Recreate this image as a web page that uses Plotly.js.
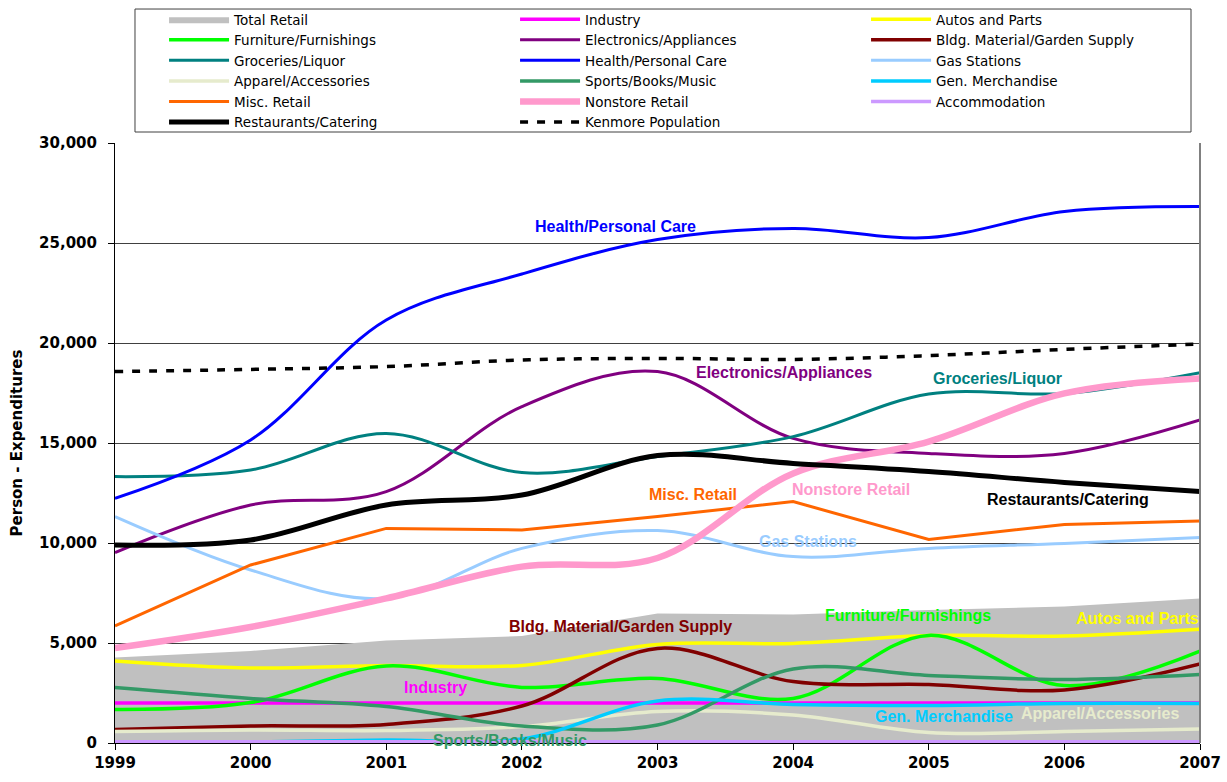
<!DOCTYPE html>
<html>
<head>
<meta charset="utf-8">
<script src="https://cdn.plot.ly/plotly-3.0.1.min.js"></script>
<style>html,body{margin:0;padding:0;background:#fff;}#chart{width:1227px;height:782px;}</style>
</head>
<body>
<div id="chart"></div>
<script>
var years = [1999, 2000, 2001, 2002, 2003, 2004, 2005, 2006, 2007];

var totalRetail   = [4270, 4600, 5120, 5350, 6480, 6430, 6650, 6820, 7230];
var industry      = [2000, 2000, 2000, 2000, 2000, 2000, 2000, 2000, 2000];
var autos         = [4100, 3750, 3870, 3880, 4930, 4980, 5370, 5350, 5690];
var furniture     = [1680, 2020, 3850, 2780, 3230, 2230, 5380, 2870, 4600];
var electronics   = [9520, 11900, 12570, 16820, 18570, 15230, 14480, 14480, 16150];
var bldg          = [680, 850, 930, 1850, 4730, 3070, 2930, 2650, 3950];
var groceries     = [13320, 13650, 15480, 13520, 14320, 15320, 17450, 17480, 18520];
var health        = [12230, 15150, 21150, 23450, 25170, 25730, 25270, 26570, 26820];
var gas           = [11320, 8650, 7230, 9730, 10620, 9320, 9730, 9980, 10270];
var apparel       = [570, 650, 620, 820, 1570, 1400, 520, 570, 700];
var sports        = [2770, 2230, 1820, 850, 900, 3700, 3380, 3180, 3430];
var genMerch      = [0, 50, 150, 200, 2100, 1930, 1880, 1980, 1980];
var misc          = [5850, 8900, 10730, 10650, 11320, 12070, 10180, 10930, 11100];
var nonstore      = [4750, 5800, 7230, 8820, 9250, 13480, 15070, 17480, 18230];
var accommodation = [60, 60, 60, 60, 60, 60, 60, 60, 60];
var restaurants   = [9900, 10150, 11900, 12400, 14370, 13980, 13570, 13030, 12570];
var population    = [18570, 18680, 18820, 19150, 19230, 19180, 19370, 19680, 19950];

var yTicks = [0, 5000, 10000, 15000, 20000, 25000, 30000];
var yTickText = ['0', '5,000', '10,000', '15,000', '20,000', '25,000', '30,000'];

function line(name, y, color, width, shape, dash) {
  return {
    type: 'scatter', mode: 'lines', name: name, x: years, y: y,
    line: {color: color, width: width, shape: shape || 'spline', smoothing: 1, dash: dash || 'solid'},
    hoverinfo: 'skip'
  };
}

var traces = [
  {type: 'scatter', mode: 'lines', name: 'Total Retail', x: years, y: totalRetail,
   fill: 'tozeroy', fillcolor: '#C0C0C0', line: {color: '#C0C0C0', width: 0}, hoverinfo: 'skip'},
  line('Industry', industry, '#FF00FF', 3.5),
  line('Autos and Parts', autos, '#FFFF00', 3.5),
  line('Furniture/Furnishings', furniture, '#00FF00', 3.5),
  line('Electronics/Appliances', electronics, '#800080', 3),
  line('Bldg. Material/Garden Supply', bldg, '#800000', 3.5),
  line('Groceries/Liquor', groceries, '#008080', 3),
  line('Health/Personal Care', health, '#0000FF', 3),
  line('Gas Stations', gas, '#99CCFF', 3),
  line('Apparel/Accessories', apparel, '#E6EBCD', 3.5),
  line('Sports/Books/Music', sports, '#339966', 3.5),
  line('Gen. Merchandise', genMerch, '#00CCFF', 3.5),
  line('Misc. Retail', misc, '#FF6600', 3, 'linear'),
  line('Nonstore Retail', nonstore, '#FF99CC', 6.5),
  line('Accommodation', accommodation, '#CC99FF', 3.5),
  line('Restaurants/Catering', restaurants, '#000000', 5),
  line('Kenmore Population', population, '#000000', 3.5, 'spline', '8px,9px')
];

var labelFont = {family: 'Liberation Sans, Arial, sans-serif', size: 16, weight: 'bold'};
function lab(text, x, y, color) {
  return {text: text, x: x, y: y, xref: 'x', yref: 'y', showarrow: false,
          xanchor: 'center', yanchor: 'middle',
          font: Object.assign({}, labelFont, {color: color})};
}

var annotations = [
  lab('Health/Personal Care', 2002.69, 25850, '#0000FF'),
  lab('Electronics/Appliances', 2003.93, 18550, '#800080'),
  lab('Groceries/Liquor', 2005.51, 18250, '#008080'),
  lab('Misc. Retail', 2003.26, 12450, '#FF6600'),
  lab('Nonstore Retail', 2004.43, 12700, '#FF99CC'),
  lab('Restaurants/Catering', 2006.03, 12200, '#000000'),
  lab('Gas Stations', 2004.11, 10100, '#99CCFF'),
  lab('Bldg. Material/Garden Supply', 2002.73, 5850, '#800000'),
  lab('Furniture/Furnishings', 2004.85, 6400, '#00FF00'),
  lab('Autos and Parts', 2006.54, 6250, '#FFFF00'),
  lab('Industry', 2001.36, 2800, '#FF00FF'),
  lab('Gen. Merchandise', 2005.11, 1350, '#00CCFF'),
  lab('Apparel/Accessories', 2006.26, 1500, '#E6EBCD'),
  lab('Sports/Books/Music', 2001.91, 150, '#339966')
];

var layout = {
  width: 1227, height: 782,
  margin: {l: 115, r: 27, t: 143, b: 39, autoexpand: false},
  paper_bgcolor: '#ffffff', plot_bgcolor: '#ffffff',
  showlegend: true,
  legend: {
    orientation: 'h', xref: 'container', yref: 'container',
    x: 0.1337, y: 0.9949, xanchor: 'left', yanchor: 'top',
    entrywidth: 276, entrywidthmode: 'pixels', itemwidth: 60,
    borderwidth: 0, bgcolor: 'rgba(0,0,0,0)',
    font: {family: 'DejaVu Sans, sans-serif', size: 13.5, color: '#000000'},
    traceorder: 'normal'
  },
  xaxis: {
    range: [1999, 2007], tickvals: years, ticktext: years.map(String),
    showgrid: false, zeroline: false,
    showline: true, linecolor: '#000000', linewidth: 1,
    ticks: 'outside', ticklen: 6, tickcolor: '#000000',
    tickfont: {family: 'DejaVu Sans, sans-serif', size: 15, weight: 'bold', color: '#000000'}
  },
  yaxis: {
    range: [0, 30000], tickvals: yTicks, ticktext: yTickText,
    showgrid: true, gridcolor: '#404040', gridwidth: 1, zeroline: false,
    showline: true, linecolor: '#000000', linewidth: 1,
    ticks: 'outside', ticklen: 6, tickcolor: '#000000', ticklabelstandoff: 8,
    tickfont: {family: 'DejaVu Sans, sans-serif', size: 15, weight: 'bold', color: '#000000'},
    title: {text: 'Person - Expenditures', standoff: 12,
            font: {family: 'DejaVu Sans, sans-serif', size: 15, weight: 'bold', color: '#000000'}}
  },
  shapes: [
    {type: 'line', xref: 'paper', yref: 'paper', x0: 1, x1: 1, y0: 0, y1: 1,
     line: {color: '#808080', width: 2}},
    {type: 'rect', xref: 'paper', yref: 'paper', x0: 0.01843, x1: 0.99171, y0: 1.01833, y1: 1.2233,
     line: {color: '#404040', width: 1}, fillcolor: 'rgba(0,0,0,0)'}
  ],
  annotations: annotations
};

Plotly.newPlot('chart', traces, layout, {displayModeBar: false, staticPlot: true});
</script>
</body>
</html>
